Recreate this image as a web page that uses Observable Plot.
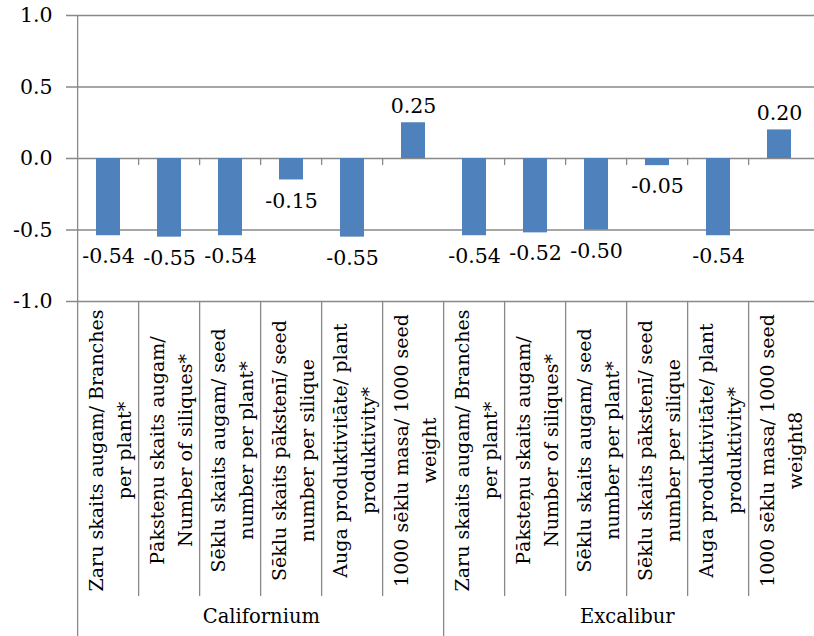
<!DOCTYPE html>
<html><head><meta charset="utf-8">
<script src="https://cdn.jsdelivr.net/npm/d3@7"></script>
<script src="https://cdn.jsdelivr.net/npm/@observablehq/plot@0.6"></script>
<style>body{margin:0;background:#fff}</style>
</head><body><div id="chart"></div>
<script>
const groups = ["Californium", "Excalibur"];
const traitsCalifornium = [
  "Zaru skaits augam/ Branches\nper plant*",
  "Pāksteņu skaits augam/\nNumber of siliques*",
  "Sēklu skaits augam/ seed\nnumber per plant*",
  "Sēklu skaits pākstenī/ seed\nnumber per silique",
  "Auga produktivitāte/ plant\nproduktivity*",
  "1000 sēklu masa/ 1000 seed\nweight"
];
const traitsExcalibur = [
  "Zaru skaits augam/ Branches\nper plant*",
  "Pāksteņu skaits augam/\nNumber of siliques*",
  "Sēklu skaits augam/ seed\nnumber per plant*",
  "Sēklu skaits pākstenī/ seed\nnumber per silique",
  "Auga produktivitāte/ plant\nproduktivity*",
  "1000 sēklu masa/ 1000 seed\nweight8"
];
const valuesCalifornium = [-0.54, -0.55, -0.54, -0.15, -0.55, 0.25];
const valuesExcalibur = [-0.54, -0.52, -0.50, -0.05, -0.54, 0.20];
const yTicks = [-1, -0.5, 0, 0.5, 1];

const rows = [];
[[groups[0], traitsCalifornium, valuesCalifornium], [groups[1], traitsExcalibur, valuesExcalibur]]
  .forEach(([g, t, v]) => t.forEach((label, i) => rows.push({key: g + "|" + i, group: g, index: i, label, value: v[i]})));
const keys = rows.map(d => d.key);

const W = 814, H = 636, mL = 73, mR = 0, mT = 15, mB = 335;
const step = (W - mL - mR) / keys.length;
const grey = "#898989";
const serif = "DejaVu Serif";
const numSize = 20.5, labelSize = 19;
const tickShape = {draw(context, l) { context.moveTo(0, 0); context.lineTo(0, -l); }};

const separators = rows.filter(d => d.index > 0);
const groupStarts = rows.filter(d => d.index === 0);
const groupMid = rows.filter(d => d.index === 2);

const chart = Plot.plot({
  width: W, height: H, marginLeft: mL, marginRight: mR, marginTop: mT, marginBottom: mB,
  style: "font-family: 'DejaVu Serif', serif; font-size: 20px; background: #fff; color: #000; overflow: visible;",
  x: {type: "band", domain: keys, paddingInner: 0.6, paddingOuter: 0.3, axis: null},
  y: {domain: [-1, 1], axis: null},
  marks: [
    Plot.ruleY(yTicks, {y: d => d, stroke: grey, strokeWidth: 1.3, insetLeft: -7}),
    Plot.barY(rows, {x: "key", y: "value", fill: "#4F81BD"}),
    Plot.ruleX(groupStarts.slice(0, 1), {x: "key", dx: -step / 2, stroke: grey, strokeWidth: 1.3}),
    Plot.vector(separators, {x: "key", y: 0, length: 6, rotate: 180, anchor: "start", shape: tickShape, dx: -step / 2, stroke: grey, strokeWidth: 1.3, fill: "none"}),
    Plot.vector(separators, {x: "key", frameAnchor: "bottom", length: 294, rotate: 180, anchor: "start", shape: tickShape, dx: -step / 2, stroke: grey, strokeWidth: 1.3, fill: "none"}),
    Plot.vector(groupStarts, {x: "key", frameAnchor: "bottom", length: 335, rotate: 180, anchor: "start", shape: tickShape, dx: -step / 2, stroke: grey, strokeWidth: 1.3, fill: "none"}),
    Plot.text(rows.filter(d => d.value < 0), {x: "key", y: "value", text: d => d.value.toFixed(2), dy: 21, fontSize: numSize, fontFamily: serif}),
    Plot.text(rows.filter(d => d.value >= 0), {x: "key", y: "value", text: d => d.value.toFixed(2), dy: -16, fontSize: numSize, fontFamily: serif}),
    Plot.text(yTicks, {y: d => d, text: d => d.toFixed(1), frameAnchor: "left", dx: -21, textAnchor: "end", fontSize: numSize, fontFamily: serif}),
    Plot.text(rows, {x: "key", text: "label", frameAnchor: "bottom", dy: 149, rotate: -90, textAnchor: "middle", lineAnchor: "middle", lineHeight: 1.47, fontSize: labelSize, fontFamily: serif}),
    Plot.text(groupMid, {x: "key", text: "group", frameAnchor: "bottom", dx: step / 2, dy: 321, fontSize: labelSize + 0.5, fontFamily: serif})
  ]
});
document.getElementById("chart").appendChild(chart);
</script>
</body></html>
